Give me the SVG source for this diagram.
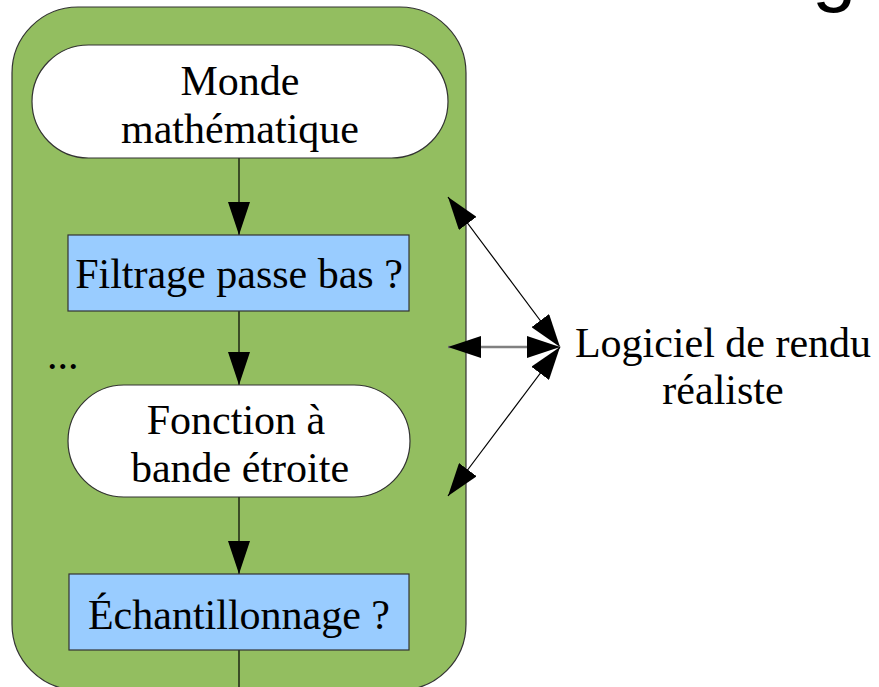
<svg xmlns="http://www.w3.org/2000/svg" width="879" height="687" viewBox="0 0 879 687">
  <defs>
    <style>
      .t { font-family: "Liberation Serif", "Times New Roman", serif; font-size: 42px; fill: #000; text-anchor: middle; }
      .stad { fill: #ffffff; stroke: #333333; stroke-width: 1.2; }
      .box { fill: #99ccff; stroke: #333333; stroke-width: 1.2; }
      .flow { stroke: #000; stroke-width: 1.2; fill: none; }
      .dbl { stroke: #000; stroke-width: 1.2; fill: none; marker-start: url(#ah); marker-end: url(#ah); }
      .dblg { stroke: #808080; stroke-width: 2.5; fill: none; marker-start: url(#ah); marker-end: url(#ah); }
    </style>
    <marker id="ah" viewBox="0 0 33 22" markerUnits="userSpaceOnUse" markerWidth="33" markerHeight="22" refX="33" refY="11" orient="auto-start-reverse">
      <path d="M0,0 L33,11 L0,22 z" fill="#000"/>
    </marker>
  </defs>

  <text x="812" y="-4" style="font-family: 'Liberation Sans', Arial, sans-serif; font-size: 80px; fill: #000;">g</text>

  <g id="container">
    <rect x="12" y="7" width="454" height="683" rx="66" ry="66" fill="#93be60" stroke="#333333" stroke-width="1.2"/>
  </g>

  <g id="connectors">
    <line class="flow" x1="239" y1="158" x2="239" y2="235" marker-end="url(#ah)"/>
    <line class="flow" x1="239" y1="311" x2="239" y2="385" marker-end="url(#ah)"/>
    <line class="flow" x1="239" y1="497" x2="239" y2="574" marker-end="url(#ah)"/>
    <line class="flow" x1="239" y1="650" x2="239" y2="687"/>
    <line class="dbl" x1="448" y1="197" x2="560" y2="347"/>
    <line class="dblg" x1="448" y1="347" x2="560" y2="347"/>
    <line class="dbl" x1="448" y1="496" x2="560" y2="347"/>
  </g>

  <g id="monde">
    <rect class="stad" x="32" y="45" width="416" height="113" rx="56.5" ry="56.5"/>
    <text class="t" x="240" y="95">Monde</text>
    <text class="t" x="240" y="143">mathématique</text>
  </g>

  <g id="filtrage">
    <rect class="box" x="68" y="235" width="341" height="76"/>
    <text class="t" x="239" y="288">Filtrage passe bas ?</text>
  </g>

  <g id="dots">
    <text x="47" y="369" style="font-family: 'Liberation Serif', serif; font-size: 42px;">...</text>
  </g>

  <g id="fonction">
    <rect class="stad" x="68" y="385" width="342" height="112" rx="56" ry="56"/>
    <text class="t" x="236" y="434">Fonction à</text>
    <text class="t" x="240" y="482">bande étroite</text>
  </g>

  <g id="echantillonnage">
    <rect class="box" x="69" y="574" width="340" height="76"/>
    <text class="t" x="239" y="629">Échantillonnage ?</text>
  </g>

  <g id="logiciel">
    <text class="t" x="723" y="357">Logiciel de rendu</text>
    <text class="t" x="723" y="404">réaliste</text>
  </g>
</svg>
